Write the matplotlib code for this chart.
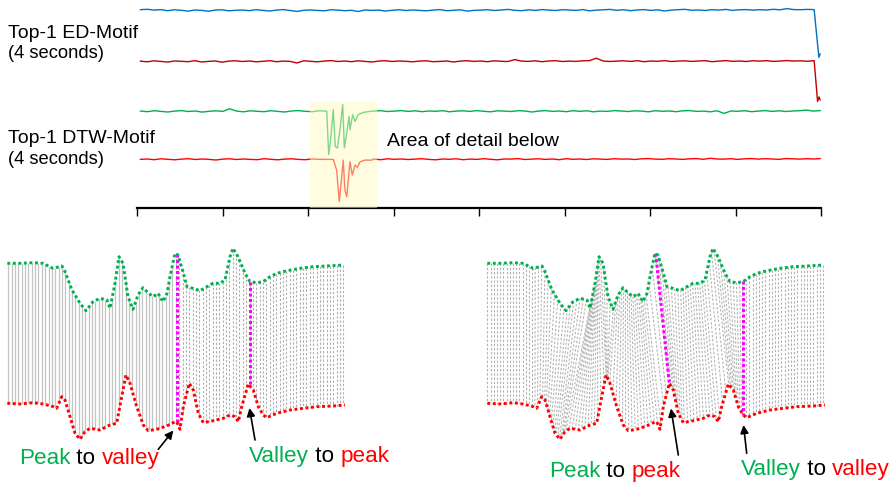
import numpy as np
import matplotlib
matplotlib.use('Agg')
import matplotlib.pyplot as plt
from matplotlib.patches import Rectangle
from matplotlib.collections import LineCollection

plt.rcParams['font.family'] = ['Liberation Sans', 'DejaVu Sans']

# ---------------- data: top panel (deviations from each trace's baseline) -------------
blue_noise = [0.7,1.1,0.3,0.8,-0.3,0.6,0.1,-0.7,0.4,0.0,
 -0.8,0.3,0.6,-0.4,0.1,0.4,-0.3,0.7,0.0,-0.6,
 0.3,0.8,-0.1,-1.0,0.1,0.4,0.0,-0.4,0.6,0.3,
 -0.3,0.1,-1.1,0.4,0.0,0.3,-0.6,0.1,0.7,-0.1,
 0.4,0.0,-0.4,0.3,0.8,-0.3,0.1,0.6,-0.7,0.0,
 0.3,0.7,-0.1,0.4,1.0,0.1,-0.3,0.6,0.0,0.8,
 0.3,-0.1,0.7,0.4,0.0,0.8,-0.4,0.3,0.6,1.0,
 0.1,0.7,-0.3,0.4,0.8,0.0,0.6,-0.6,0.3,0.7,
 1.1,0.1,0.4,-0.1,0.7,0.3,1.0,0.0,0.6,0.8,
 0.3,0.7,0.4,1.1,0.6,1.8,0.8,0.7,1.0,0.8]
blue_tail_t = [7.975, 7.99]
blue_tail = [-47.0, -43.5]

darkred_noise = [0.3,-0.4,0.6,0.0,-0.7,0.4,0.1,-0.3,0.7,-0.6,
 0.0,0.4,-0.8,0.3,0.6,-0.1,0.4,-0.4,0.1,0.7,
 -0.3,0.3,0.0,-1.6,0.6,0.1,-0.4,0.3,0.8,-0.1,
 0.4,-0.3,0.6,0.0,-0.6,0.3,0.7,-0.1,0.4,0.1,
 -0.4,0.3,0.6,-0.3,0.0,0.4,-0.6,0.3,0.7,0.0,
 0.4,-0.3,0.6,0.1,-0.1,1.8,0.3,0.0,0.6,-0.3,
 0.4,0.7,-0.1,0.3,0.0,0.6,0.8,3.2,0.4,-0.1,
 0.3,0.6,0.0,0.7,-0.3,0.4,0.1,0.8,-0.1,0.3,
 0.6,0.0,0.4,0.7,-0.3,0.3,0.8,0.1,0.4,-0.1,
 0.6,0.3,0.7,0.0,0.4,0.8,0.3,0.6,0.1,0.7]
darkred_tail_t = [7.96, 7.977, 7.99]
darkred_tail = [-40.0, -35.5, -38.5]

green_noise = [0.4,-0.3,0.7,0.0,-0.6,0.3,0.8,-0.1,0.4,-0.7,
 0.1,0.6,0.0,2.6,0.3,-0.4,0.6,0.1,-0.3,0.7,
 0.0,-0.6,0.4,0.8,0.1,-0.3,0.6,0.3,0.0,0.0,
 0.0,0.0,0.0,0.0,0.4,0.7,-0.1,0.3,0.8,0.0,
 0.6,-0.3,0.4,0.1,0.7,-0.4,0.3,0.6,0.0,0.8,
 0.1,-0.4,0.6,0.3,-0.1,0.7,0.4,-0.6,0.3,0.8,
 0.0,0.4,-0.3,0.7,0.1,0.6,-0.4,0.3,0.0,0.8,
 0.4,-0.1,0.6,0.3,-0.4,0.7,0.1,0.4,-0.3,0.6,
 0.8,0.0,0.3,-0.4,0.6,-2.0,0.4,0.1,0.7,-0.3,
 0.3,0.8,0.0,0.6,-0.1,0.4,0.7,1.3,0.3,0.8]
green_event_t = [2.219, 2.242, 2.265, 2.296, 2.319, 2.343, 2.374, 2.406, 2.425,
                 2.453, 2.480, 2.491, 2.523, 2.550, 2.588, 2.647, 2.725]
green_event = [0.0, -43.0, -28.3, 1.7, -35.0, -36.6, -18.3, 6.7, -36.6,
               -21.6, -5.0, -18.3, -3.3, -10.0, -3.3, -1.0, 0.0]

red_noise = [0.0,0.4,-0.3,0.6,0.1,-0.4,0.3,0.7,-0.1,0.4,
 0.0,-0.6,0.3,0.6,-0.1,0.4,0.0,-0.3,0.7,0.1,
 -0.4,0.3,0.6,0.0,-0.3,0.4,0.1,0.0,0.0,0.0,
 0.0,0.0,0.0,0.0,0.3,-0.3,0.6,0.1,0.4,-0.1,
 0.3,0.7,0.0,-0.4,0.4,0.1,0.6,-0.3,0.3,0.0,
 0.7,0.1,-0.4,0.4,0.3,0.8,-0.1,0.3,0.6,0.0,
 0.4,-0.3,0.7,0.1,0.4,-0.1,0.6,0.3,0.0,0.7,
 0.3,0.4,-0.1,0.6,0.8,0.3,0.1,0.7,0.4,0.0,
 0.6,0.8,0.1,1.1,0.4,0.3,0.7,0.0,0.6,0.8,
 0.3,0.7,0.4,0.1,0.8,0.6,0.3,0.7,0.4,0.8]
red_event_t = [2.296, 2.335, 2.366, 2.394, 2.412, 2.432, 2.453, 2.471, 2.491,
               2.518, 2.550, 2.577, 2.608, 2.667, 2.745]
red_event = [0.0, -10.7, -42.0, -17.4, -0.7, -30.7, -37.4, -20.7, -2.4,
             -15.7, -5.7, -8.0, -2.4, -0.7, -0.7]

# ---------------- data: bottom detail (amplitudes) -------------
green_det_x = [7.3, 20, 33, 43, 53, 62, 65, 72, 80, 86, 93, 100, 107, 110, 115, 119, 123,
               128, 133, 138, 143, 148, 153, 158, 163, 167, 170, 175, 178, 182, 187, 193,
               200, 207, 213, 220, 225, 230, 233, 238, 245, 250, 257, 263, 270, 277, 287,
               300, 313, 327, 343]
green_det = [48.7, 48.7, 49.3, 48.7, 43.7, 46, 40.3, 22, 8.7, 1.3, 10.3, 13.7, 12, 3.7,
             28.7, 55.3, 48.7, 15.3, 2.7, 17, 24.3, 19.3, 15.3, 18.7, 10.3, 18.7, 35.3,
             58.7, 57, 43.7, 25.3, 23.7, 21.3, 25.3, 28.7, 28.7, 32, 55.3, 63.7, 55.3,
             38.7, 30.3, 29.3, 30.3, 35.3, 38.7, 41.3, 43.7, 45.3, 46, 47]
red_det_x = [7.3, 20, 33.3, 43.3, 53.3, 56.7, 61.7, 65, 70, 75, 80, 85, 90, 100, 110, 116.7,
             121.7, 126, 130, 136.7, 143.3, 148.3, 156.7, 166.7, 173.3, 176.7, 180, 183.3,
             189.3, 193.3, 198.3, 203.3, 213.3, 223.3, 230, 235, 238.3, 241.7, 248.3,
             253.3, 258.3, 263.3, 266.7, 276.7, 290, 303.3, 316.7, 333.3, 345]
red_det = [36.7, 36, 37.3, 36, 33.3, 31.7, 43.3, 40, 23.3, 6.7, 0.7, 8.3, 11.7, 10, 15,
           16.7, 43.3, 65, 56.7, 33.3, 15, 9.3, 10.7, 14, 17.3, 18.3, 10.7, 33.3, 56.7, 50,
           26.7, 17.3, 19.3, 21.7, 25, 23.3, 18.3, 33.3, 56, 50, 33.3, 25, 22.3, 26.7, 30,
           31.7, 33.3, 34, 35]
# DTW warping path anchors (green position -> red position)
warp_g = [7.3, 53.3, 66.7, 86, 110, 119.3, 135, 166.7, 175.7, 200, 233.3, 263.3, 345]
warp_r = [7.3, 53.3, 64.0, 74, 86, 126, 128, 181.7, 189.3, 203.3, 248.3, 263.3, 345]
# highlighted matches: (green pos, red pos)
left_marks = [(176.5, 176.5), (250.0, 250.0)]
right_marks = [(175.7, 189.3), (263.3, 263.3)]

# ---------------- colours -------------
C_BLUE = '#0070c0'
C_DRED = '#c00000'
C_GREEN = '#00b050'
C_RED = '#ff0000'
C_MAG = '#ff00ff'

W, H = 896, 482
fig = plt.figure(figsize=(W / 100, H / 100), dpi=100)


def fx(px):
    return px / W


def fy(py):
    return 1 - py / H


# ================= top panel =================
ax = fig.add_axes([fx(137), fy(208), fx(821) - fx(137), fy(0) - fy(208)])
ax.set_xlim(0, 8)
ax.set_ylim(0, 208)
for s in ['top', 'left', 'right']:
    ax.spines[s].set_visible(False)
ax.spines['bottom'].set_linewidth(1.6)
ax.spines['bottom'].set_zorder(2.5)
ax.set_xticks(range(9))
ax.set_yticks([])
ax.tick_params(axis='x', direction='out', length=6, width=1.0, labelbottom=False)
ax.patch.set_alpha(0)

BASE_BLUE, BASE_DRED, BASE_GREEN, BASE_RED = 197.6, 146.6, 96.6, 48.6

t_ed = np.linspace(0.04, 7.92, len(blue_noise))
ax.plot(np.r_[t_ed, blue_tail_t], BASE_BLUE + np.r_[blue_noise, blue_tail],
        color=C_BLUE, lw=1.0, clip_on=False, zorder=2)
ax.plot(np.r_[t_ed, darkred_tail_t], BASE_DRED + np.r_[darkred_noise, darkred_tail],
        color=C_DRED, lw=1.0, clip_on=False, zorder=2)

t_dtw = np.linspace(0.04, 7.99, len(green_noise))


def merged(noise, ev_t, ev):
    m = (t_dtw < ev_t[0]) | (t_dtw > ev_t[-1])
    tt = np.r_[t_dtw[m], ev_t]
    yy = np.r_[np.asarray(noise)[m], ev]
    o = np.argsort(tt)
    return tt[o], yy[o]


tg, yg = merged(green_noise, green_event_t, green_event)
ax.plot(tg, BASE_GREEN + yg, color=C_GREEN, lw=1.0, clip_on=False, zorder=2)
tr, yr = merged(red_noise, red_event_t, red_event)
ax.plot(tr, BASE_RED + yr, color=C_RED, lw=1.0, clip_on=False, zorder=2)

ax.add_patch(Rectangle((2.023, 0), 0.784, 107, facecolor='#fffbc1', alpha=0.5,
                       edgecolor='none', zorder=3, clip_on=False))

fig.text(fx(8), fy(38), 'Top-1 ED-Motif', fontsize=14, va='baseline', ha='left')
fig.text(fx(8), fy(58), '(4 seconds)', fontsize=13.2, va='baseline', ha='left')
fig.text(fx(8), fy(143), 'Top-1 DTW-Motif', fontsize=14, va='baseline', ha='left')
fig.text(fx(8), fy(163.5), '(4 seconds)', fontsize=13.2, va='baseline', ha='left')
fig.text(fx(387), fy(145.5), 'Area of detail below', fontsize=14, va='baseline', ha='left')

# ================= bottom panels =================
bx = fig.add_axes([0, 0, 1, 242 / H])
bx.set_xlim(0, W)
bx.set_ylim(0, 242)
bx.axis('off')

G_OFF, R_OFF = 170.0, 42.0   # vertical placement of the two detail series
PANELS = [0.0, 480.0]         # horizontal placement of the two panels


def g_at(x):
    return G_OFF + np.interp(x, green_det_x, green_det)


def r_at(x):
    return R_OFF + np.interp(x, red_det_x, red_det)


LINK_DASH = [(0, (2.2, 1.6))]

# left: Euclidean-style vertical links
p = PANELS[0]
cx = np.arange(8.3, 345.5, 3.35)
segs_solid = [[(p + x, g_at(x)), (p + x, r_at(x))] for x in cx if x < 175]
segs_dash = [[(p + x, g_at(x)), (p + x, r_at(x))] for x in cx if x >= 175]
bx.add_collection(LineCollection(segs_solid, colors='#c4c4c4', linewidths=0.9, zorder=1))
bx.add_collection(LineCollection(segs_dash, colors='#b0b0b0', linewidths=0.8,
                                 linestyles=LINK_DASH, zorder=1))

# right: DTW warping links
p = PANELS[1]
seg_len = np.maximum(np.abs(np.diff(warp_g)), np.abs(np.diff(warp_r)))
u_anchor = np.r_[0, np.cumsum(seg_len)]
u = np.arange(0, u_anchor[-1] + 0.01, 3.2)
wg = np.interp(u, u_anchor, warp_g)
wr = np.interp(u, u_anchor, warp_r)
segs_dtw = [[(p + a, g_at(a)), (p + b, r_at(b))] for a, b in zip(wg, wr)]
bx.add_collection(LineCollection(segs_dtw, colors='#b4b4b4', linewidths=0.8,
                                 linestyles=LINK_DASH, zorder=1))

# magenta highlighted links
for p, marks in zip(PANELS, [left_marks, right_marks]):
    for a, b in marks:
        bx.plot([p + a, p + b], [g_at(a), r_at(b)], color=C_MAG, lw=2.2,
                linestyle=(0, (1, 0.8)), dash_capstyle='butt', zorder=3)

# the two detail series, dotted
for p in PANELS:
    bx.plot(p + np.asarray(green_det_x), G_OFF + np.asarray(green_det), color=C_GREEN,
            lw=2.1, linestyle=(0, (1, 0.9)), dash_capstyle='butt', zorder=4)
    bx.plot(p + np.asarray(red_det_x), R_OFF + np.asarray(red_det), color=C_RED,
            lw=2.1, linestyle=(0, (1, 0.9)), dash_capstyle='butt', zorder=4)


def py(v):
    return H - v


arrows = [((158.3, 449.3), (173.3, 430.5)),
          ((255.0, 440.0), (249.5, 408.0)),
          ((678.3, 455.0), (671.0, 408.5)),
          ((746.7, 453.3), (743.5, 425.0))]
for tail, tip in arrows:
    bx.annotate('', xy=(tip[0], py(tip[1])), xytext=(tail[0], py(tail[1])),
                arrowprops=dict(arrowstyle='-|>', color='black', lw=1.2,
                                mutation_scale=12, shrinkA=0, shrinkB=0), zorder=5)


def multicolor(x, ybase, parts, size=16.2):
    prev = bx.text(x, py(ybase), parts[0][0], color=parts[0][1], fontsize=size,
                   va='baseline', ha='left')
    for s, c in parts[1:]:
        prev = bx.annotate(s, xy=(1, 0), xycoords=prev, va='bottom', ha='left',
                           color=c, fontsize=size)


multicolor(19, 464, [('Peak', C_GREEN), (' to ', 'black'), ('valley', C_RED)])
multicolor(249, 462, [('Valley', C_GREEN), (' to ', 'black'), ('peak', C_RED)])
multicolor(549, 477, [('Peak', C_GREEN), (' to ', 'black'), ('peak', C_RED)])
multicolor(741, 475, [('Valley', C_GREEN), (' to ', 'black'), ('valley', C_RED)])

fig.savefig('out.png', dpi=100)
